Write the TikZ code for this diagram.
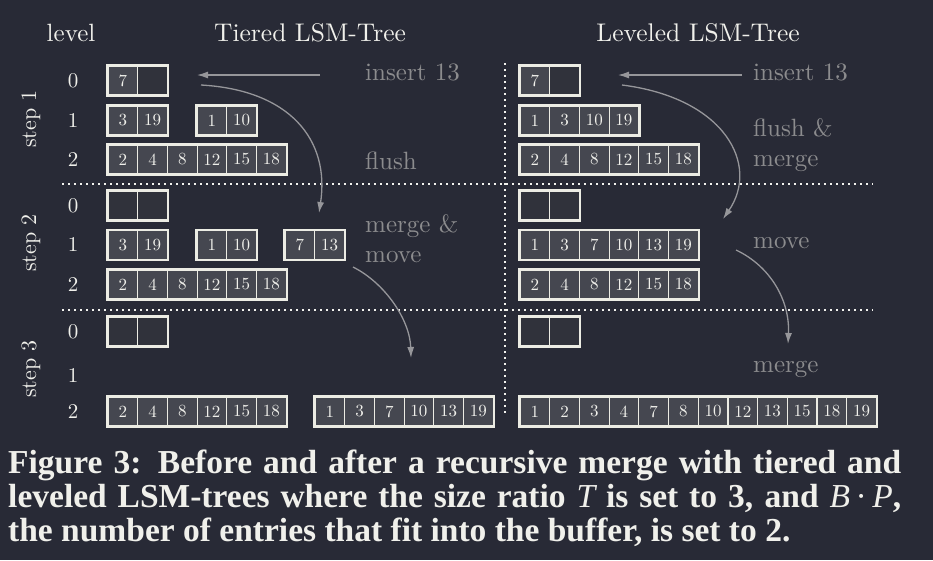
\documentclass[tikz,border=0pt]{standalone}
\usepackage{graphicx}
\usepackage{fontspec}
\newfontfamily\capfont{Liberation Serif}
\usetikzlibrary{arrows.meta}

\definecolor{bg}{RGB}{40,42,54}
\definecolor{cellfill}{RGB}{69,71,80}
\definecolor{emptyfill}{RGB}{48,50,59}
\definecolor{edge}{RGB}{236,236,228}
\definecolor{ink}{RGB}{240,240,235}
\definecolor{note}{RGB}{140,140,142}
\definecolor{flow}{RGB}{150,150,154}

\def\cw{29.7}
% ten-point text magnified, keeping the sturdy 10pt design
\newcommand\bigtx[2]{\scalebox{#1}{#2}}

\tikzset{
  cell/.style={draw=edge, fill=cellfill, line width=1.2pt, minimum width=29.7pt,
    minimum height=29pt, inner sep=0pt, text=ink},
  bufcell/.style={cell, fill=emptyfill},
  runframe/.style={draw=edge, line width=2.2pt},
  head/.style={text=ink, anchor=base, inner sep=0pt},
  lvl/.style={text=ink, inner sep=0pt},
  note/.style={text=note, anchor=base west, inner sep=0pt},
  flowline/.style={draw=flow, line width=1.3pt, -{Latex[length=11pt,width=7pt]}},
  sep/.style={draw=ink!85, line width=1.6pt, dash pattern=on 1.6pt off 4.4pt},
  caption/.style={text=ink, font=\capfont\bfseries\fontsize{33.5}{34}\selectfont,
    anchor=base west, inner sep=0pt},
}

% a run of filled cells: name, left x, centre y, entries
\newcommand\cellrun[4]{%
  \foreach \v [count=\i] in {#4} {
    \node[cell] (#1-\i) at ({#2+(\i-0.5)*\cw}, #3) {\bigtx{1.7}{\v}};
    \xdef\lastcell{\i}
  }
  \draw[runframe] (#1-1.north west) rectangle (#1-\lastcell.south east);
}
% the empty two-entry buffer: name, left x, centre y
\newcommand\bufrun[3]{%
  \node[bufcell] (#1-1) at ({#2+0.5*\cw}, #3) {};
  \node[bufcell] (#1-2) at ({#2+1.5*\cw}, #3) {};
  \draw[runframe] (#1-1.north west) rectangle (#1-2.south east);
}

\begin{document}
\begin{tikzpicture}[x=1pt,y=-1pt]
\fill[bg] (0,0) rectangle (933,560);
\useasboundingbox (0,0) rectangle (933,560);

% headings
\node[head] (hlevel) at (71,41) {\bigtx{2.5}{level}};
\node[head] (htier) at (310,41) {\bigtx{2.55}{Tiered LSM-Tree}};
\node[head] (hlev) at (698,41) {\bigtx{2.55}{Leveled LSM-Tree}};

% separators
\coordinate (s1a) at (62,184);  \coordinate (s1b) at (873,184);
\coordinate (s2a) at (62,310);  \coordinate (s2b) at (873,310);
\coordinate (va) at (505,63);   \coordinate (vb) at (505,415);
\draw[sep] (s1a) -- (s1b);
\draw[sep] (s2a) -- (s2b);
\draw[sep] (va) -- (vb);

% step labels
\node[lvl, rotate=90] (st1) at (31,119) {\bigtx{2.2}{step 1}};
\node[lvl, rotate=90] (st2) at (31,243) {\bigtx{2.2}{step 2}};
\node[lvl, rotate=90] (st3) at (31,369) {\bigtx{2.2}{step 3}};

% level numbers
\foreach \y/\l [count=\k] in {80.5/0,120.5/1,159.5/2,205.5/0,245/1,284.5/2,331.5/0,375/1,411.5/2}
  \node[lvl] (lv\k) at (73,\y) {\bigtx{2.1}{\l}};

% ---- tiered, step 1
\cellrun{ta0}{108}{80.5}{7}
\node[bufcell] (ta0-2) at ({108+1.5*\cw},80.5) {};
\draw[runframe] (ta0-1.north west) rectangle (ta0-2.south east);
\cellrun{ta1}{108}{120.5}{3,19}
\cellrun{ta1b}{197}{120.5}{1,10}
\cellrun{ta2}{108}{159.5}{2,4,8,12,15,18}
% ---- tiered, step 2
\bufrun{tb0}{108}{205.5}
\cellrun{tb1}{108}{245}{3,19}
\cellrun{tb1b}{197}{245}{1,10}
\cellrun{tb1c}{285}{245}{7,13}
\cellrun{tb2}{108}{284.5}{2,4,8,12,15,18}
% ---- tiered, step 3
\bufrun{tc0}{108}{331.5}
\cellrun{tc2}{108}{411.5}{2,4,8,12,15,18}
\cellrun{tc2b}{315}{411.5}{1,3,7,10,13,19}

% ---- leveled, step 1
\cellrun{la0}{520}{80.5}{7}
\node[bufcell] (la0-2) at ({520+1.5*\cw},80.5) {};
\draw[runframe] (la0-1.north west) rectangle (la0-2.south east);
\cellrun{la1}{520}{120.5}{1,3,10,19}
\cellrun{la2}{520}{159.5}{2,4,8,12,15,18}
% ---- leveled, step 2
\bufrun{lb0}{520}{205.5}
\cellrun{lb1}{520}{245}{1,3,7,10,13,19}
\cellrun{lb2}{520}{284.5}{2,4,8,12,15,18}
% ---- leveled, step 3
\bufrun{lc0}{520}{331.5}
\cellrun{lc2}{520}{411.5}{1,2,3,4,7,8,10,12,13,15,18,19}

% annotations
\node[note] (n1) at (365,80) {\bigtx{2.5}{insert 13}};
\node[note] (n2) at (365,169) {\bigtx{2.5}{flush}};
\node[note] (n3) at (365,232) {\bigtx{2.5}{merge \&}};
\node[note] (n4) at (365,262) {\bigtx{2.5}{move}};
\node[note] (n5) at (753,80) {\bigtx{2.5}{insert 13}};
\node[note] (n6) at (753,136) {\bigtx{2.5}{flush \&}};
\node[note] (n7) at (753,166) {\bigtx{2.5}{merge}};
\node[note] (n8) at (753,248) {\bigtx{2.5}{move}};
\node[note] (n9) at (753,372) {\bigtx{2.5}{merge}};

% flow arrows
\coordinate (ti0) at (320,75);  \coordinate (ti1) at (197,75);
\coordinate (tf0) at (201,85);  \coordinate (tf1) at (319,213);
\coordinate (tm0) at (353,267); \coordinate (tm1) at (411,358);
\coordinate (li0) at (742,75);  \coordinate (li1) at (618,75);
\coordinate (lf0) at (622,85);  \coordinate (lf1) at (723,219);
\coordinate (lm0) at (736,250); \coordinate (lm1) at (788,344);
\draw[flowline] (ti0) -- (ti1);
\draw[flowline] (tf0) .. controls (290,90) and (330,140) .. (tf1);
\draw[flowline] (tm0) .. controls (385,283) and (410,320) .. (tm1);
\draw[flowline] (li0) -- (li1);
\draw[flowline] (lf0) .. controls (725,98) and (760,165) .. (lf1);
\draw[flowline] (lm0) .. controls (770,266) and (790,300) .. (lm1);

% caption
\node[caption] (cap1) at (8,473) {\makebox[893pt][s]{Figure 3: Before and after a recursive merge with tiered and}};
\node[caption] (cap2) at (8,507) {\makebox[893pt][s]{leveled LSM-trees where the size ratio {\mdseries\itshape T} is set to 3, and {\mdseries\itshape B}\,{\mdseries·}\,{\mdseries\itshape P},}};
\node[caption] (cap3) at (8,541) {the number of entries that fit into the buffer, is set to 2.};
\end{tikzpicture}
\end{document}
